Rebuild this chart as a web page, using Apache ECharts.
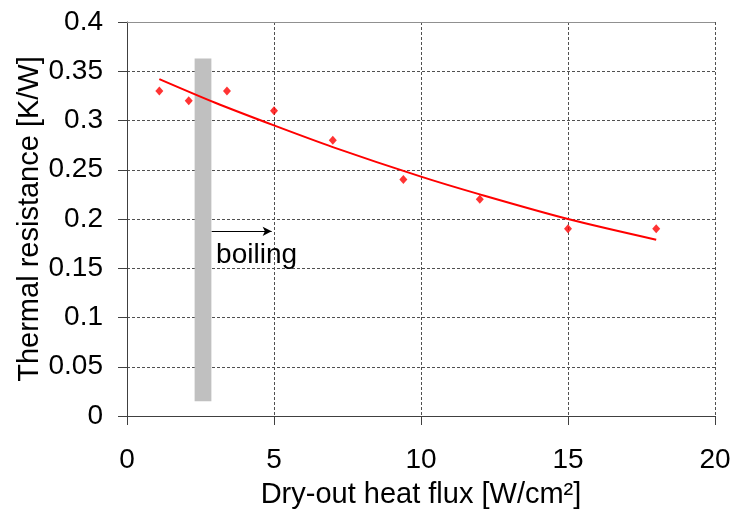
<!DOCTYPE html>
<html>
<head>
<meta charset="utf-8">
<script src="https://cdn.jsdelivr.net/npm/echarts@6/dist/echarts.min.js"></script>
<style>
html,body{margin:0;padding:0;background:#fff;}
#chart{width:737px;height:523px;}
</style>
</head>
<body>
<div id="chart"></div>
<script>
// Measured data points
const fluxValues = [1.1, 2.1, 3.4, 5, 7, 9.4, 12, 15, 18];
const resistanceValues = [0.33, 0.32, 0.33, 0.31, 0.28, 0.24, 0.22, 0.19, 0.19];
// Trendline points
const trendFlux = [1.1, 3, 5, 7, 10, 12, 15, 18];
const trendResistance = [0.342, 0.318, 0.295, 0.273, 0.243, 0.225, 0.2, 0.179];
// Boiling onset band and annotation
const bandX = [2.3, 2.87];
const bandY = [0.015, 0.363];
const arrowX = [2.88, 4.92];
const arrowY = 0.1875;
const boilingLabel = 'boiling';
const boilingPos = [3.03, 0.163];
// Axes
const xTicks = [0, 5, 10, 15, 20];
const yTicks = [0, 0.05, 0.1, 0.15, 0.2, 0.25, 0.3, 0.35, 0.4];

const FONT = '"Liberation Sans", Arial, sans-serif';
const chart = echarts.init(document.getElementById('chart'), null, {renderer: 'canvas'});

const pts = fluxValues.map((x, i) => [x, resistanceValues[i]]);
const trend = trendFlux.map((x, i) => [x, trendResistance[i]]);

chart.setOption({
  backgroundColor: '#ffffff',
  animation: false,
  grid: {left: 127, right: 22, top: 22, bottom: 107, containLabel: false},
  xAxis: {
    type: 'value',
    min: xTicks[0], max: xTicks[xTicks.length - 1], interval: 5,
    name: 'Dry-out heat flux [W/cm²]',
    nameLocation: 'middle',
    nameGap: 64,
    nameMoveOverlap: false,
    nameTextStyle: {fontFamily: FONT, fontSize: 29, color: '#000'},
    axisLine: {show: true, onZero: false, lineStyle: {color: '#404040', width: 1}},
    axisTick: {show: true, length: 9, lineStyle: {color: '#404040'}},
    axisLabel: {fontFamily: FONT, fontSize: 28, color: '#000', margin: 30},
    splitLine: {show: true, lineStyle: {color: '#505050', type: [3, 2], width: 1}}
  },
  yAxis: {
    type: 'value',
    min: yTicks[0], max: yTicks[yTicks.length - 1], interval: 0.05,
    name: 'Thermal resistance [K/W]',
    nameLocation: 'middle',
    nameGap: 83,
    nameMoveOverlap: false,
    nameTextStyle: {fontFamily: FONT, fontSize: 29, color: '#000'},
    axisLine: {show: true, lineStyle: {color: '#404040', width: 1}},
    axisTick: {show: true, length: 9, lineStyle: {color: '#404040'}},
    axisLabel: {fontFamily: FONT, fontSize: 28, color: '#000', margin: 24,
      formatter: v => String(Math.round(v * 100) / 100)},
    splitLine: {show: true, lineStyle: {color: '#505050', type: [3, 2], width: 1}}
  },
  series: [
    {
      type: 'line',
      data: trend,
      smooth: 0.3,
      showSymbol: false,
      symbol: 'none',
      z: 2,
      lineStyle: {color: '#ff0000', width: 2},
      markLine: {
        silent: true,
        symbol: ['none', 'none'],
        label: {show: false},
        lineStyle: {color: '#909090', type: 'solid', width: 1},
        data: [{yAxis: yTicks[yTicks.length - 1]}]
      }
    },
    {
      type: 'scatter',
      data: pts,
      symbol: 'diamond',
      symbolSize: [8, 9],
      z: 3,
      itemStyle: {color: '#ff0000'}
    },
    {
      type: 'line',
      data: [],
      z: 5,
      markArea: {
        silent: true,
        itemStyle: {color: '#c0c0c0', opacity: 1},
        data: [[{coord: [bandX[0], bandY[0]]}, {coord: [bandX[1], bandY[1]]}]]
      },
      markLine: {
        silent: true,
        symbol: ['none', 'arrow'],
        symbolSize: [7, 9],
        label: {show: false},
        lineStyle: {color: '#000', type: 'solid', width: 1},
        data: [[{coord: [arrowX[0], arrowY]}, {coord: [arrowX[1], arrowY]}]]
      },
      markPoint: {
        silent: true,
        symbol: 'circle',
        symbolSize: 0,
        itemStyle: {color: 'transparent'},
        label: {show: true, position: 'right', distance: 0, formatter: boilingLabel,
          fontFamily: FONT, fontSize: 28, color: '#000'},
        data: [{coord: boilingPos}]
      }
    }
  ]
});
</script>
</body>
</html>
